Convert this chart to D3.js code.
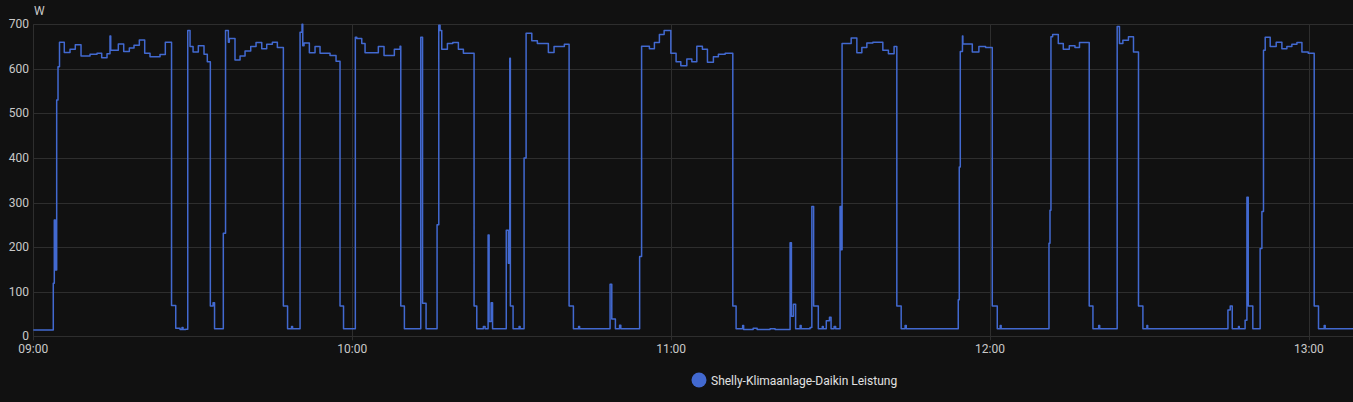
<!DOCTYPE html>
<html><head><meta charset="utf-8">
<script src="https://cdn.jsdelivr.net/npm/d3@7"></script>
<style>
html,body{margin:0;padding:0;background:#111111;}
svg{display:block;}
text{font-family:Roboto,"Noto Sans",sans-serif;}
</style></head>
<body><svg id="c" width="1353" height="402"></svg>
<script>
// minutes after 09:00
const minutes = [0,3.65,3.76,3.95,4.14,4.40,4.65,4.93,5.83,6.91,7.90,8.98,10.67,11.99,12.87,13.87,14.43,14.57,16.0,17.01,18.07,18.95,19.95,20.96,21.96,23.84,24.84,26.01,26.80,27.61,27.98,28.17,28.68,29.06,29.49,30.06,31.05,32.12,32.74,33.31,33.82,34.10,35.75,36.17,36.70,36.88,37.95,38.90,39.84,40.91,41.91,42.98,43.92,44.98,45.92,47.05,47.84,48.59,48.78,49.75,50.19,50.56,50.70,50.94,51.94,53.01,53.95,55.83,56.96,57.71,58.37,60.22,60.59,60.86,61.80,62.42,64.92,65.99,67.93,69.01,69.14,69.82,72.64,72.90,73.24,73.90,75.59,75.97,76.29,76.53,76.85,77.91,78.92,79.98,80.92,82.93,83.44,84.68,85.0,85.57,85.76,86.14,86.41,88.99,89.39,89.65,89.76,90.27,91.40,91.59,92.34,92.72,93.79,94.84,96.91,97.98,99.92,100.81,101.62,102.60,102.79,108.52,108.84,109.52,110.31,110.54,114.08,114.45,115.92,116.86,117.80,118.69,119.95,120.94,121.83,122.96,123.90,124.84,125.89,126.84,127.96,128.90,130.17,131.61,132.23,133.46,133.65,135.44,136.19,138.63,139.57,142.39,142.64,143.02,143.43,144.28,144.47,146.15,146.48,146.82,147.70,148.45,148.63,149.2,149.8,150.1,150.67,150.96,151.79,151.99,152.17,153.88,154.95,155.89,156.83,157.96,159.84,160.89,161.96,162.47,163.29,164.03,164.25,173.63,174.03,174.22,174.41,174.82,174.90,176.67,177.91,179.17,180.43,181.37,181.92,182.1,190.97,191.10,191.29,191.47,191.79,192.85,193.79,194.92,195.99,196.84,198.67,199.37,200.45,200.64,203.74,203.93,204.36,205.0,206.05,207.0,207.94,208.77,209.52,209.67,224.77,225.2,225.58,226.76,226.9,228.0,228.34,228.59,229.45,230.83,231.16,231.46,231.78,232.72,233.85,234.92,235.86,236.80,237.75,238.69,239.88,241.0,241.81,242.88,243.07,248.3];
const watts = [14,14,119,261,149,530,605,660,637,644,654,629,633,635,625,634,674,642,656,639,647,653,665,635,627,632,660,69,18,15,20,15,16,686,650,638,652,633,616,68,75,17,231,686,660,668,620,629,640,650,659,645,655,660,648,68,17,22,17,17,682,700,652,658,636,650,635,630,617,68,17,17,671,668,657,636,650,630,644,651,68,17,17,671,74,17,17,250,698,686,644,657,659,644,635,68,17,22,17,227,33,75,17,238,164,624,68,17,22,17,400,680,663,657,637,650,655,68,17,22,17,117,39,17,25,17,179,651,645,659,677,686,635,616,607,622,616,651,644,615,627,633,635,68,17,24,15,18,15,17,15,210,45,72,17,24,17,20,291,68,17,22,17,35,43,17,22,17,291,194,657,669,636,648,658,660,642,634,650,68,17,24,17,17,82,380,639,674,656,638,650,648,68,17,24,17,17,209,283,672,677,657,644,652,648,659,68,17,24,17,17,695,657,664,672,638,68,17,24,17,59,68,17,22,17,36,312,68,17,197,280,642,671,650,660,645,650,655,659,638,635,68,17,24,17,17];
const seriesName = "Shelly-Klimaanlage-Daikin Leistung";
const unitLabel = "W";
const yTicks = [0,100,200,300,400,500,600,700];
const xTickLabels = ["09:00","10:00","11:00","12:00","13:00"];
const startTime = "2024-07-01T09:00:00";
const endMinutes = 248.3;

if (minutes.length !== watts.length) throw new Error("len mismatch " + minutes.length + " " + watts.length);

(function(){
const svg = d3.select("#c");
const pl = 33.3, pr = 1353, pt = 24.3, pb = 336.3;
const t0 = new Date(startTime);
const toDate = m => new Date(t0.getTime() + m*60000);
const x = d3.scaleTime().domain([t0, toDate(endMinutes)]).range([pl, pr]);
const y = d3.scaleLinear().domain([0,700]).range([pb, pt]);

const gridColor = "#2e2e2e";
const textColor = "#c9c9c9";

svg.append("g").selectAll("line").data(yTicks).join("line")
  .attr("x1", pl).attr("x2", pr)
  .attr("y1", d=>Math.round(y(d))+0.5).attr("y2", d=>Math.round(y(d))+0.5)
  .attr("stroke", gridColor).attr("stroke-width",1);
svg.append("g").selectAll("text").data(yTicks).join("text")
  .attr("x", 29).attr("y", d=>y(d)+4)
  .attr("text-anchor","end").attr("fill",textColor).attr("font-size",12)
  .text(d=>d);
const xTicks = xTickLabels.map(s => { const [h,mm]=s.split(":").map(Number); return new Date(t0.getFullYear(), t0.getMonth(), t0.getDate(), h, mm); });
svg.append("g").selectAll("line").data(xTicks).join("line")
  .attr("x1", d=>Math.round(x(d))+0.5).attr("x2", d=>Math.round(x(d))+0.5)
  .attr("y1", pt).attr("y2", pb+4)
  .attr("stroke", gridColor).attr("stroke-width",1);
svg.append("g").selectAll("text").data(xTicks).join("text")
  .attr("x", d=>x(d)).attr("y", 353)
  .attr("text-anchor","middle").attr("fill",textColor).attr("font-size",12)
  .text((d,i)=>xTickLabels[i]);
svg.append("text").attr("x", 34).attr("y", 15).attr("fill", textColor).attr("font-size",12).text(unitLabel);

const data = minutes.map((m,i)=>({t:toDate(m), v:watts[i]}));
const line = d3.line().x(d=>x(d.t)).y(d=>y(d.v)).curve(d3.curveStepAfter);
const lineColor = "#4269d0";
svg.append("path").datum(data).attr("d", line)
  .attr("fill","none").attr("stroke", lineColor).attr("stroke-width",1.5).attr("stroke-linejoin","round");

const lg = svg.append("g");
lg.append("circle").attr("cx", 699).attr("cy", 380).attr("r", 7.5).attr("fill", lineColor);
lg.append("text").attr("x", 711).attr("y", 385).attr("fill", "#e1e1e1").attr("font-size", 12).text(seriesName);
})();
</script></body></html>
